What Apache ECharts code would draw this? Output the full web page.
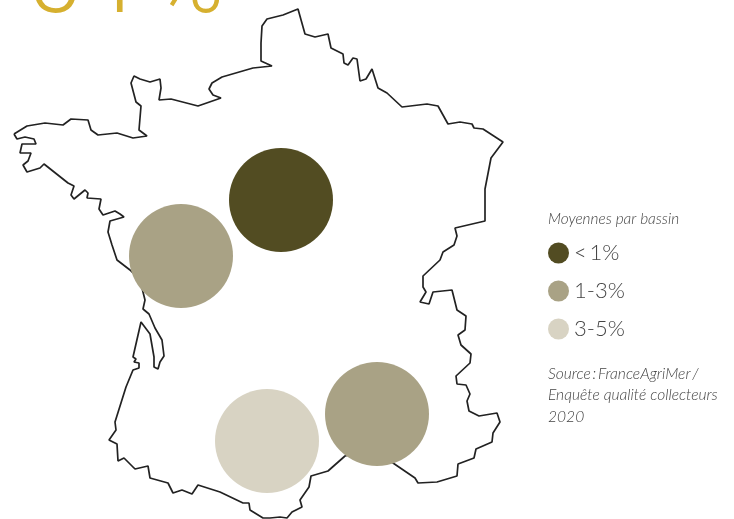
<!DOCTYPE html>
<html><head><meta charset="utf-8"><style>html,body{margin:0;padding:0;background:#fff}#c{width:734px;height:519px}</style>
<script src="https://cdn.jsdelivr.net/npm/echarts@6/dist/echarts.min.js"></script></head>
<body><div id="c"></div><script>
const outline=[[14,134],[27,126],[45,123],[63,125],[71,119],[88,120],[91,130],[98,135],[117,133],[133,138],[147,136],[139,130],[141,106],[136,102],[131,83],[134,76],[140,79],[150,82],[160,79],[161,88],[159,100],[171,99],[198,106],[221,98],[213,95],[209,89],[212,83],[222,77],[253,68],[272,66],[261,61],[261,43],[262,26],[267,19],[283,15],[298,9],[305,34],[315,37],[328,34],[331,48],[343,54],[344,63],[348,65],[353,58],[357,59],[360,81],[366,79],[372,69],[374,70],[378,88],[387,93],[402,107],[427,104],[438,106],[448,124],[460,122],[472,124],[474,128],[483,129],[503,142],[491,158],[485,189],[485,221],[455,228],[457,236],[454,245],[443,252],[440,260],[423,276],[423,287],[426,292],[420,302],[429,304],[433,292],[452,290],[457,310],[466,316],[465,330],[458,335],[461,345],[471,354],[470,363],[456,376],[457,384],[466,385],[470,394],[467,401],[469,411],[479,416],[497,413],[500,422],[493,433],[492,442],[476,449],[474,458],[458,464],[457,476],[437,482],[418,483],[415,478],[393,463],[370,450],[345,456],[328,471],[311,476],[309,487],[300,500],[302,507],[292,512],[287,518],[280,517],[270,518],[263,518],[250,510],[249,503],[243,503],[220,492],[198,485],[192,494],[182,490],[173,493],[168,483],[150,478],[148,466],[135,469],[124,458],[118,461],[117,444],[109,440],[116,430],[115,422],[126,387],[133,370],[139,368],[139,363],[134,362],[136,359],[133,357],[141,322],[150,334],[154,357],[154,367],[158,369],[160,362],[164,356],[162,340],[155,328],[149,314],[143,309],[145,300],[143,292],[140,280],[130,270],[117,260],[112,245],[108,232],[110,221],[124,217],[120,214],[115,211],[103,215],[99,209],[101,199],[87,198],[88,193],[85,190],[74,199],[71,195],[74,186],[68,183],[44,164],[40,168],[27,172],[23,165],[28,161],[31,153],[20,153],[22,144],[36,144],[34,139],[25,137],[17,139],[14,134]];
const under1=[[281,200]];
const from1to3=[[181,256],[377,414]];
const from3to5=[[267,441]];
const legendNames=['<\u20091%','1-3%','3-5%'];
const colors=['#524c22','#a9a285','#d8d3c3'];
const heading='5\u200A1\u200A%';
const legendTitle='Moyennes par bassin';
const source='Source\u2009:\u2009FranceAgriMer\u2009/\nEnquête qualité collecteurs\n2020';
const font='Lato';
const bubble=(name,data,color)=>({name,type:'scatter',data,symbol:'circle',symbolSize:104,z:3,itemStyle:{color,opacity:1},silent:true});
echarts.init(document.getElementById('c'),null,{renderer:'canvas'}).setOption({
 animation:false,backgroundColor:'#fff',
 grid:{left:0,top:0,width:734,height:519},
 xAxis:{type:'value',min:0,max:734,show:false},
 yAxis:{type:'value',min:0,max:519,inverse:true,show:false},
 title:[
  {text:heading,left:22,top:-65,textStyle:{color:'#d6b02f',fontFamily:'Roboto',fontWeight:300,fontSize:96}},
  {text:legendTitle,left:543,top:207,textStyle:{color:'#444',fontFamily:font,fontStyle:'italic',fontWeight:300,fontSize:15.4}},
  {text:source,left:543,top:358,textStyle:{color:'#444',fontFamily:font,fontStyle:'italic',fontWeight:300,fontSize:15.6,lineHeight:21.5}}
 ],
 legend:{orient:'vertical',left:543,top:237,itemWidth:21,itemHeight:21,itemGap:16,icon:'circle',selectedMode:false,data:legendNames,
  textStyle:{color:'#444',fontFamily:font,fontWeight:300,fontSize:22,padding:[5,0,0,0]}},
 series:[
  {name:'outline',type:'line',data:outline,symbol:'none',z:2,silent:true,lineStyle:{color:'#222',width:1.7}},
  bubble(legendNames[0],under1,colors[0]),
  bubble(legendNames[1],from1to3,colors[1]),
  bubble(legendNames[2],from3to5,colors[2])
 ]
});
</script></body></html>
